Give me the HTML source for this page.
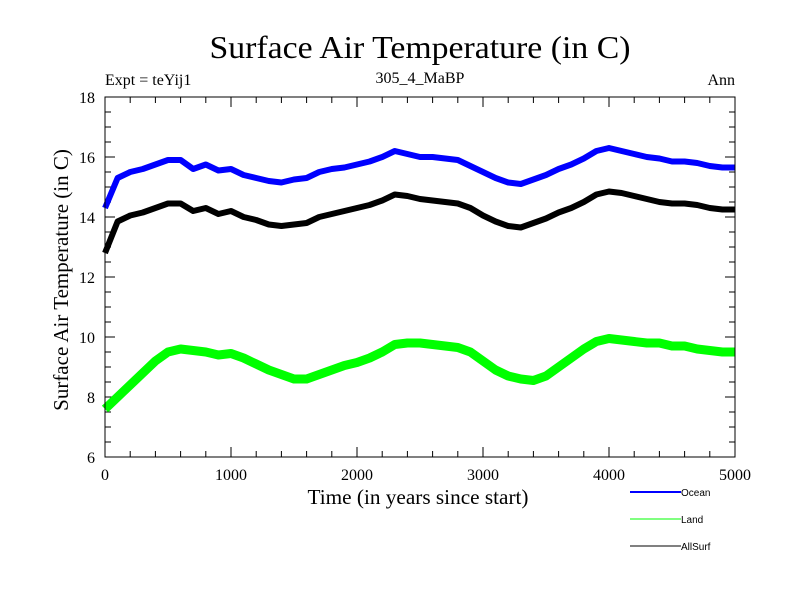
<!DOCTYPE html>
<html><head><meta charset="utf-8"><style>
body{margin:0;background:#fff}
svg{display:block}
text{font-family:"Liberation Serif",serif;fill:#000}
.lg{font-family:"Liberation Sans",sans-serif;font-size:10px}
</style></head><body>
<svg id="chart" width="800" height="600">
<text x="420" y="58" font-size="32" text-anchor="middle" textLength="421" lengthAdjust="spacingAndGlyphs">Surface Air Temperature (in C)</text>
<text x="105" y="85" font-size="16">Expt = teYij1</text>
<text x="420" y="83" font-size="16" text-anchor="middle">305_4_MaBP</text>
<text x="735" y="85" font-size="16" text-anchor="end">Ann</text>
<text transform="translate(68,280) rotate(-90)" font-size="21" text-anchor="middle">Surface Air Temperature (in C)</text>
<text x="418" y="504" font-size="21" text-anchor="middle" textLength="221" lengthAdjust="spacingAndGlyphs">Time (in years since start)</text>
<g id="ticks"></g>
<g id="series"></g>
<rect x="105" y="97" width="630" height="360" fill="none" stroke="#000" stroke-width="1"/>
<g>
<line x1="630" y1="492" x2="681" y2="492" stroke="#0000ff" stroke-width="2"/>
<text class="lg" x="681" y="496">Ocean</text>
<line x1="630" y1="519" x2="681" y2="519" stroke="#00ff00" stroke-width="1"/>
<text class="lg" x="681" y="523">Land</text>
<line x1="630" y1="546" x2="681" y2="546" stroke="#000" stroke-width="1"/>
<text class="lg" x="681" y="550">AllSurf</text>
</g>
</svg>
<script>
const years = [0,100,200,300,400,500,600,700,800,900,1000,1100,1200,1300,1400,1500,1600,1700,1800,1900,2000,2100,2200,2300,2400,2500,2600,2700,2800,2900,3000,3100,3200,3300,3400,3500,3600,3700,3800,3900,4000,4100,4200,4300,4400,4500,4600,4700,4800,4900,5000];
const ocean = [14.3,15.3,15.5,15.6,15.75,15.9,15.9,15.6,15.75,15.55,15.6,15.4,15.3,15.2,15.15,15.25,15.3,15.5,15.6,15.65,15.75,15.85,16.0,16.2,16.1,16.0,16.0,15.95,15.9,15.7,15.5,15.3,15.15,15.1,15.25,15.4,15.6,15.75,15.95,16.2,16.3,16.2,16.1,16.0,15.95,15.85,15.85,15.8,15.7,15.65,15.65];
const allsurf = [12.8,13.85,14.05,14.15,14.3,14.45,14.45,14.2,14.3,14.1,14.2,14.0,13.9,13.75,13.7,13.75,13.8,14.0,14.1,14.2,14.3,14.4,14.55,14.75,14.7,14.6,14.55,14.5,14.45,14.3,14.05,13.85,13.7,13.65,13.8,13.95,14.15,14.3,14.5,14.75,14.85,14.8,14.7,14.6,14.5,14.45,14.45,14.4,14.3,14.25,14.25];
const land = [7.6,8.0,8.4,8.8,9.2,9.5,9.6,9.55,9.5,9.4,9.45,9.3,9.1,8.9,8.75,8.6,8.6,8.75,8.9,9.05,9.15,9.3,9.5,9.75,9.8,9.8,9.75,9.7,9.65,9.5,9.2,8.9,8.7,8.6,8.55,8.7,9.0,9.3,9.6,9.85,9.95,9.9,9.85,9.8,9.8,9.7,9.7,9.6,9.55,9.5,9.5];
const xTicks = [0,1000,2000,3000,4000,5000];
const yTicks = [6,8,10,12,14,16,18];
const X0=105,X1=735,Y0=457,Y1=97,XMIN=0,XMAX=5000,YMIN=6,YMAX=18;
const sx=v=>X0+(v-XMIN)/(XMAX-XMIN)*(X1-X0);
const sy=v=>Y0-(v-YMIN)/(YMAX-YMIN)*(Y0-Y1);
const NS='http://www.w3.org/2000/svg';
const tg=document.getElementById('ticks');
function ln(x1,y1,x2,y2,name){const l=document.createElementNS(NS,'line');l.setAttribute('x1',x1);l.setAttribute('y1',y1);l.setAttribute('x2',x2);l.setAttribute('y2',y2);l.setAttribute('stroke','#000');


tg.appendChild(l);}
function tx(x,y,s,anchor,name){const t=document.createElementNS(NS,'text');t.setAttribute('x',x);t.setAttribute('y',y);t.setAttribute('font-size','16');t.setAttribute('text-anchor',anchor);t.textContent=s;


tg.appendChild(t);}
for(let v=XMIN;v<=XMAX;v+=200){const x=sx(v);const major=v%1000===0;const L=major?10:6;ln(x,Y0,x,Y0-L,'x-tick');ln(x,Y1,x,Y1+L,'x-tick-top');}
for(let v=YMIN;v<=YMAX+1e-9;v+=0.5){const y=sy(v);const major=Math.abs(v-Math.round(v))<1e-9&&Math.round(v)%2===0;const L=major?10:6;ln(X0,y,X0+L,y,'y-tick');ln(X1,y,X1-L,y,'y-tick-right');}
xTicks.forEach(v=>tx(sx(v),Y0+23,String(v),'middle','x-tick-label'));
yTicks.forEach(v=>tx(X0-10,sy(v)+6,String(v),'end','y-tick-label'));
const sg=document.getElementById('series');
function series(vals,color,w,name){const p=document.createElementNS(NS,'path');
p.setAttribute('d',vals.map((v,i)=>(i?'L':'M')+sx(years[i]).toFixed(1)+','+sy(v).toFixed(1)).join(''));
p.setAttribute('fill','none');p.setAttribute('stroke',color);p.setAttribute('stroke-width',w);p.setAttribute('stroke-linejoin','round');


sg.appendChild(p);}
series(land,'#00ff00',9,'land-line');
series(ocean,'#0000ff',6,'ocean-line');
series(allsurf,'#000000',6,'allsurf-line');
</script>
</body></html>
